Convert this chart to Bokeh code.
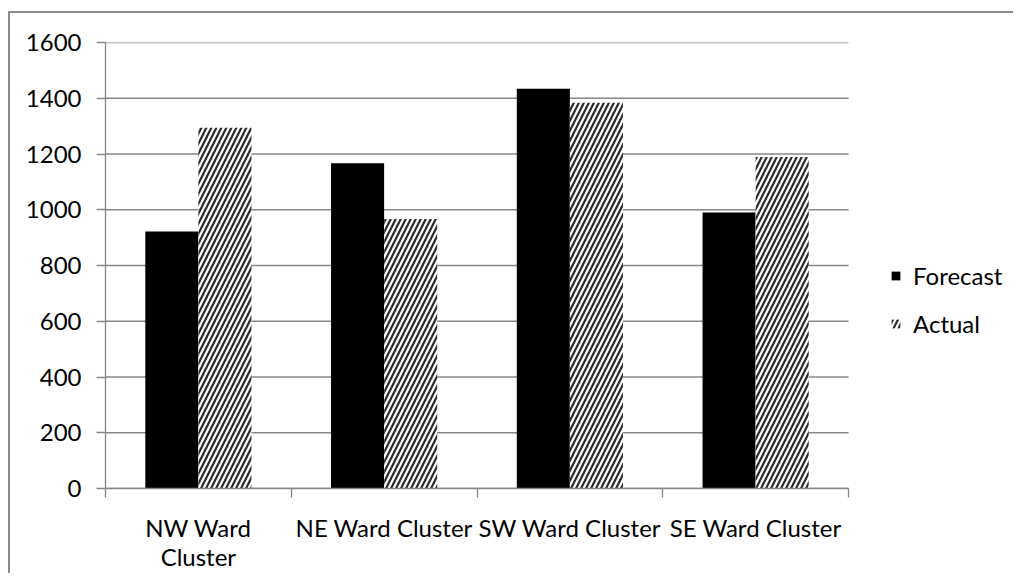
from bokeh.plotting import figure
from bokeh.models import (Range1d, FixedTicker, Legend, LegendItem, ColumnDataSource)
from bokeh.transform import dodge
from bokeh.embed import file_html
from bokeh.resources import INLINE

# ---- data ----
categories = ["NW Ward Cluster", "NE Ward Cluster", "SW Ward Cluster", "SE Ward Cluster"]
forecast = [922, 1167, 1434, 990]
actual = [1294, 967, 1384, 1189]
series = ["Forecast", "Actual"]
y_ticks = [0, 200, 400, 600, 800, 1000, 1200, 1400, 1600]
wrapped_labels = {"NW Ward Cluster": "NW Ward\nCluster"}

FONT = "Lato"
FS = "24px"
GRAY = "#868686"

# layout (pixels)
W, H = 1005, 562
BORDER_L, BORDER_T, BORDER_B = 95, 29, 87
PLOT_W = 743                       # width of the category area
FRAME_W = W - BORDER_L             # frame also hosts the legend on the right

n = len(categories)
centers = [i + 0.5 for i in range(n)]          # category slot centres
edges = list(range(n + 1))                     # category slot boundaries
src = ColumnDataSource(dict(x=centers, cat=categories, forecast=forecast, actual=actual))
grid_src = ColumnDataSource(dict(y=y_ticks, x0=[0] * len(y_ticks), x1=[n] * len(y_ticks)))

p = figure(x_range=Range1d(0, n * FRAME_W / PLOT_W), y_range=Range1d(y_ticks[0], y_ticks[-1]),
           width=W, height=H, output_backend="svg", toolbar_location=None,
           min_border_left=BORDER_L, min_border_top=BORDER_T, min_border_right=0,
           min_border_bottom=BORDER_B)
p.styles = {"border-left": "2px solid #8c8c8c", "border-top": "2px solid #8c8c8c",
            "margin-top": "11px", "margin-left": "8px"}
p.outline_line_color = None
p.background_fill_color = "white"
p.border_fill_color = "white"
p.xgrid.visible = False
p.ygrid.visible = False

# horizontal gridlines over the category area only
p.segment(x0="x0", x1="x1", y0="y", y1="y", source=grid_src,
          line_color=GRAY, line_width=1.3)

# y axis
p.yaxis.ticker = FixedTicker(ticks=y_ticks)
p.yaxis.axis_line_color = GRAY
p.yaxis.axis_line_width = 1.3
p.yaxis.major_tick_line_color = GRAY
p.yaxis.major_tick_line_width = 1.3
p.yaxis.major_tick_out = 9
p.yaxis.major_tick_in = 0
p.yaxis.minor_tick_line_color = None
p.yaxis.major_label_standoff = 15
p.yaxis.major_label_text_font = FONT
p.yaxis.major_label_text_font_size = FS
p.yaxis.major_label_text_color = "black"

# x axis: labels at category centres, tick marks at category boundaries
xa = p.xaxis[0]
xa.bounds = (0, n)
xa.ticker = FixedTicker(ticks=centers, minor_ticks=edges)
xa.major_label_overrides = {c: wrapped_labels.get(name, name)
                            for c, name in zip(centers, categories)}
xa.axis_line_color = GRAY
xa.axis_line_width = 1.3
xa.major_tick_line_color = None
xa.major_tick_out = 9
xa.major_tick_in = 0
xa.minor_tick_line_color = GRAY
xa.minor_tick_line_width = 1.3
xa.minor_tick_out = 9
xa.minor_tick_in = 0
xa.major_label_standoff = 15
xa.major_label_text_font = FONT
xa.major_label_text_font_size = FS
xa.major_label_text_line_height = 1.0
xa.major_label_text_color = "black"

# bars (Excel-style gap width 150%)
w = 1.0 / (len(series) + 1.5)
r1 = p.vbar(x=dodge("x", -w / 2), top="forecast", width=w,
            source=src, fill_color="black", line_color=None)
r2 = p.vbar(x=dodge("x", w / 2), top="actual", width=w,
            source=src, fill_color="white", line_color=None,
            hatch_pattern="/", hatch_color="#2a2a2a", hatch_scale=10, hatch_weight=2.2)

legend = Legend(items=[LegendItem(label=series[0], renderers=[r1]),
                       LegendItem(label=series[1], renderers=[r2])],
                location=(785, 150), orientation="vertical",
                glyph_width=11, glyph_height=11, label_standoff=12, spacing=19,
                padding=0, margin=0, border_line_color=None, background_fill_alpha=0,
                label_text_font=FONT, label_text_font_size=FS, label_text_color="black")
p.add_layout(legend)

open("out.html", "w").write(file_html(p, INLINE))
